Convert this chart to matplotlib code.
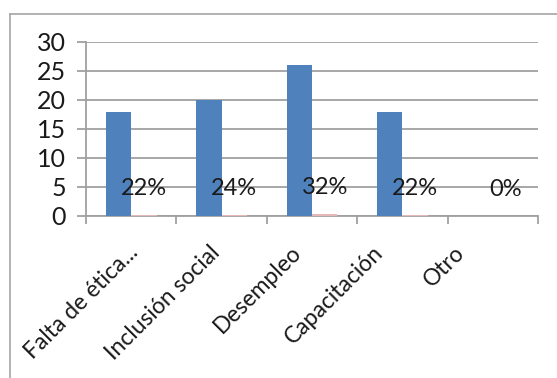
import matplotlib.pyplot as plt
import numpy as np
from matplotlib.lines import Line2D
from matplotlib.transforms import ScaledTranslation

plt.rcParams['font.family'] = ['Lato', 'DejaVu Sans']

# Data
categories = ['Falta de ética...', 'Inclusión social', 'Desempleo',
              'Capacitación', 'Otro']
counts = [18, 20, 26, 18, 0]
shares = [0.22, 0.24, 0.32, 0.22, 0.0]

x = np.arange(len(categories))
width = 0.28

fig = plt.figure(figsize=(5.57, 3.78), dpi=100)
ax = fig.add_axes([0.1544, 0.4286, 0.966 - 0.1544, 0.889 - 0.4286])

ax.bar(x - width / 2, counts, width, color='#4F81BD', zorder=3)
ax.bar(x + width / 2, shares, width, color='#E6B9B8', zorder=3)

for xi, s in zip(x, shares):
    ax.annotate(f"{s:.0%}", (xi + width / 2, s), xytext=(0, 19),
                textcoords='offset points', ha='center', va='center',
                fontsize=17, color='#1a1a1a', zorder=4)

ax.set_xlim(-0.5, len(categories) - 0.5)
ax.set_ylim(0, 30)
ax.set_yticks(range(0, 31, 5))
ax.yaxis.grid(True, color='#A0A0A0', linewidth=1.3, zorder=0)
ax.set_axisbelow(True)

# category labels, Excel-style placement (drift a bit left)
ax.set_xticks([])
shifts = np.linspace(4, -32, len(categories))
for xi, name, dx in zip(x, categories, shifts):
    off = ScaledTranslation(dx / 100, -33 / 100, fig.dpi_scale_trans)
    ax.text(xi, 0, name, transform=ax.get_xaxis_transform() + off,
            rotation=45, ha='right', va='center', rotation_mode='anchor',
            fontsize=16.5, color='#1a1a1a')

ax.set_xticks(np.arange(-0.5, len(categories)), minor=True)
ax.tick_params(axis='x', which='minor', length=6, color='#A0A0A0',
               width=1.3, direction='out')
ax.tick_params(axis='y', length=6.5, color='#A0A0A0', width=1.3,
               labelsize=18, pad=8, labelcolor='#1a1a1a')

for side in ['top', 'right']:
    ax.spines[side].set_visible(False)
ax.spines['left'].set_color('#A0A0A0')
ax.spines['left'].set_linewidth(1.3)
ax.spines['bottom'].set_color('#A0A0A0')
ax.spines['bottom'].set_linewidth(1.3)

# chart border (cropped at right and bottom)
x0 = 9.5 / 557
y0 = 1 - 13.5 / 378
fig.add_artist(Line2D([x0, x0], [-0.1, y0], transform=fig.transFigure,
                      color='#A6A6A6', linewidth=1.2))
fig.add_artist(Line2D([x0, 1.1], [y0, y0], transform=fig.transFigure,
                      color='#A6A6A6', linewidth=1.2))

fig.savefig('out.png', dpi=100)
